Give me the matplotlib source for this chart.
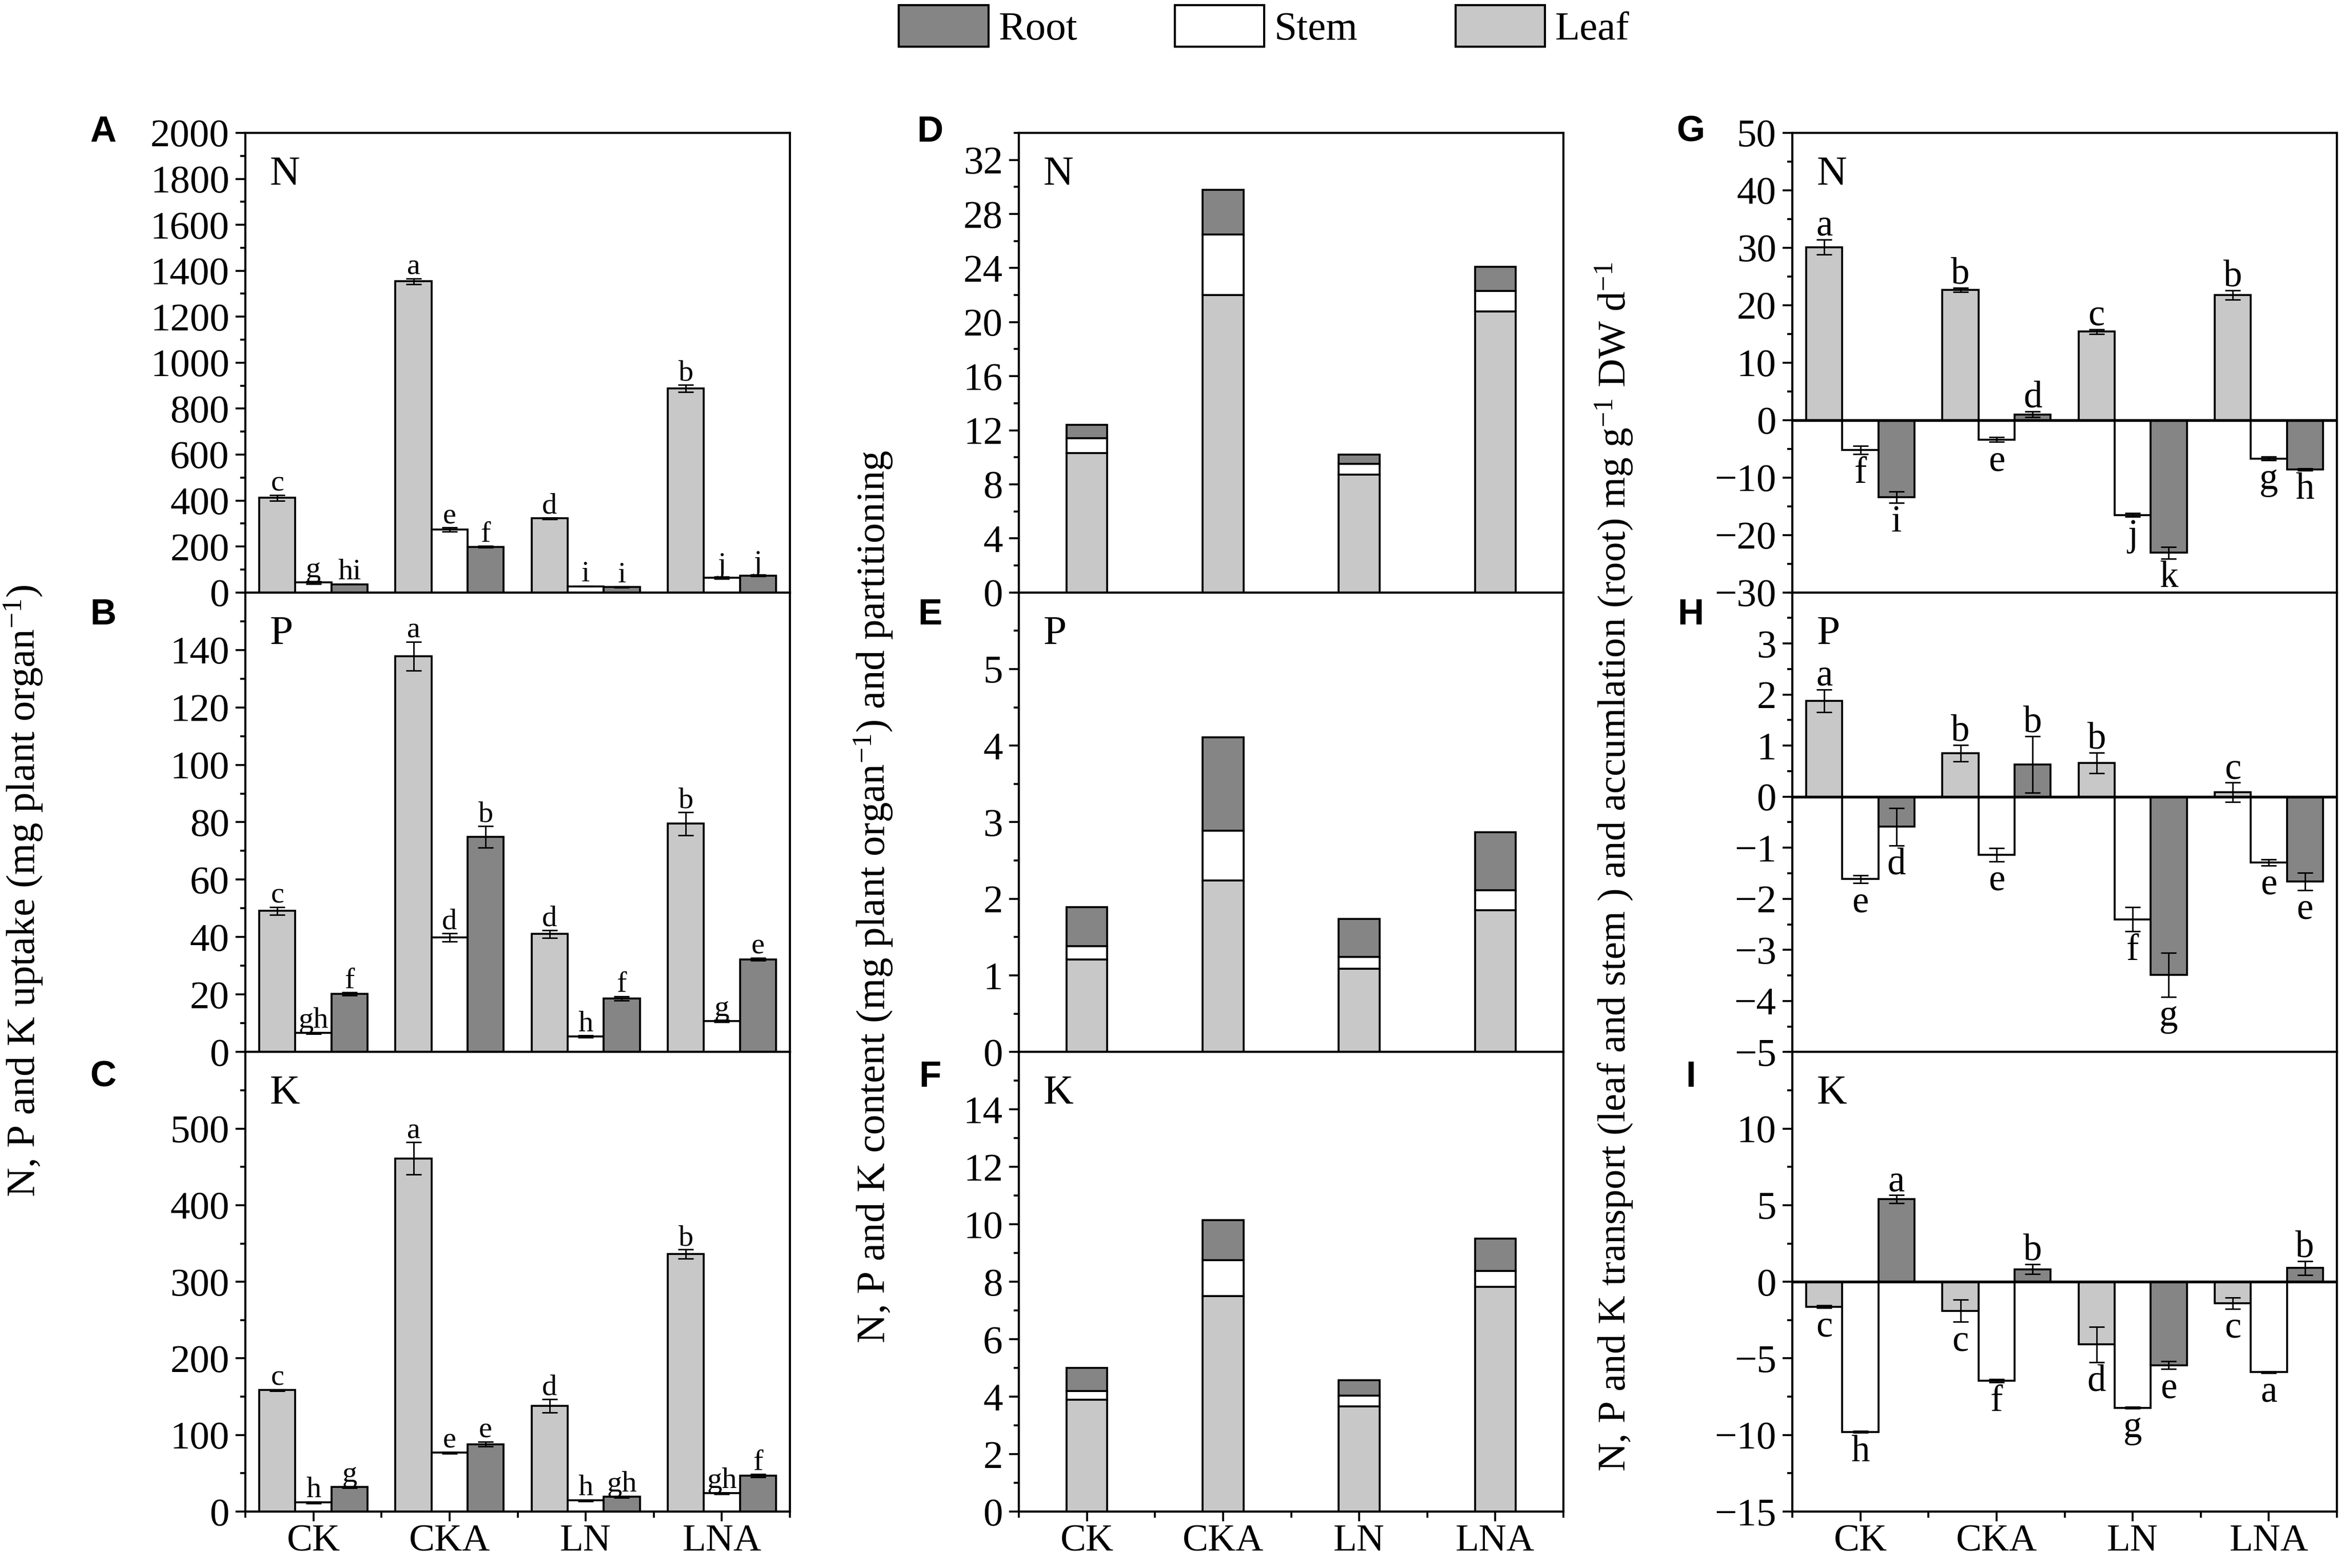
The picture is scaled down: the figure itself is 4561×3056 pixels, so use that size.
import numpy as np
import matplotlib.pyplot as plt
from matplotlib.ticker import MultipleLocator
from matplotlib.patches import Patch

plt.rcParams['font.family'] = ['Liberation Serif', 'DejaVu Serif']
plt.rcParams['mathtext.fontset'] = 'custom'
plt.rcParams['mathtext.rm'] = 'Liberation Serif'
plt.rcParams['mathtext.it'] = 'Liberation Serif:italic'

groups = ["CK", "CKA", "LN", "LNA"]
leaf_c = "#c8c8c8"
root_c = "#858585"

### uptake (A-C), order per list: CK, CKA, LN, LNA
n_leaf = [412, 1354, 322, 888]
n_stem = [43, 274, 27, 64]
n_root = [36, 199, 23, 74]
n_err = [[12, 12, 3, 15], [5, 8, 2, 4], [2, 3, 2, 3]]
n_let = [["c", "a", "d", "b"], ["g", "e", "i", "j"], ["hi", "f", "i", "j"]]

p_leaf = [49.1, 137.8, 41.1, 79.5]
p_stem = [6.6, 39.9, 5.4, 10.8]
p_root = [20.2, 74.9, 18.7, 32.3]
p_err = [[1.4, 5.0, 1.3, 4.0], [0.3, 1.5, 0.3, 0.3], [0.5, 3.8, 0.7, 0.5]]
p_let = [["c", "a", "d", "b"], ["gh", "d", "h", "g"], ["f", "b", "f", "e"]]

k_leaf = [158.5, 461, 138, 336]
k_stem = [12, 77, 14.6, 24]
k_root = [32, 88, 19.3, 47]
k_err = [[1, 21, 9, 6], [1, 1, 1, 1], [1, 3, 1, 2]]
k_let = [["c", "a", "d", "b"], ["h", "e", "h", "gh"], ["g", "e", "gh", "f"]]

### content and partitioning (D-F), stacked: leaf, stem, root
nc_leaf = [10.3, 22.0, 8.7, 20.8]
nc_stem = [1.1, 4.5, 0.8, 1.5]
nc_root = [1.0, 3.3, 0.7, 1.8]

pc_leaf = [1.21, 2.24, 1.09, 1.85]
pc_stem = [0.17, 0.65, 0.15, 0.26]
pc_root = [0.51, 1.22, 0.50, 0.76]

kc_leaf = [3.9, 7.5, 3.67, 7.82]
kc_stem = [0.3, 1.25, 0.36, 0.56]
kc_root = [0.8, 1.4, 0.54, 1.12]

### transport / accumulation (G-I)
nt_leaf = [30.1, 22.7, 15.4, 21.8]
nt_stem = [-5.2, -3.4, -16.5, -6.7]
nt_root = [-13.4, 1.0, -23.1, -8.6]
nt_err = [[1.3, 0.35, 0.4, 0.8], [0.7, 0.4, 0.3, 0.3], [1.0, 0.5, 1.0, 0.15]]
nt_let = [["a", "b", "c", "b"], ["f", "e", "j", "g"], ["i", "d", "k", "h"]]

pt_leaf = [1.88, 0.85, 0.66, 0.085]
pt_stem = [-1.615, -1.14, -2.40, -1.29]
pt_root = [-0.59, 0.63, -3.49, -1.66]
pt_err = [[0.22, 0.16, 0.2, 0.19], [0.08, 0.13, 0.24, 0.06], [0.37, 0.55, 0.43, 0.17]]
pt_let = [["a", "b", "b", "c"], ["e", "e", "f", "e"], ["d", "b", "g", "e"]]

kt_leaf = [-1.62, -1.9, -4.09, -1.4]
kt_stem = [-9.8, -6.47, -8.23, -5.9]
kt_root = [5.39, 0.82, -5.45, 0.9]
kt_err = [[0.08, 0.72, 1.16, 0.38], [0.05, 0.1, 0.05, 0.04], [0.26, 0.32, 0.25, 0.45]]
kt_let = [["c", "c", "d", "c"], ["h", "f", "g", "a"], ["a", "b", "e", "b"]]

x = np.arange(1, 5)

W, H = 4561, 3056
fig = plt.figure(figsize=(W / 300, H / 300), dpi=300)

# layout (pixels)
top_px, bot_px = 259, 2946
row_h = (bot_px - top_px) / 3
lefts = [478 / W, 1985 / W, 3492 / W]
width = 1061 / W
height = row_h / H
bottoms = [1 - (top_px + row_h * (r + 1)) / H for r in range(3)]


def style_axis(ax, ylim, ticks, minor, bottom_row):
    ax.set_xlim(0.5, 4.5)
    ax.set_ylim(*ylim)
    ax.set_yticks(ticks)
    ax.yaxis.set_minor_locator(MultipleLocator(minor))
    for s in ax.spines.values():
        s.set_linewidth(1.0)
    ax.tick_params(axis='y', which='major', direction='out', length=4.5, width=0.9, labelsize=18.5, pad=3)
    ax.tick_params(axis='y', which='minor', direction='out', length=2.5, width=0.9)
    if bottom_row:
        ax.set_xticks(x)
        ax.set_xticklabels(groups, fontsize=18)
        ax.set_xticks(np.arange(0.5, 4.6, 1.0), minor=True)
        ax.tick_params(axis='x', which='major', direction='out', length=4.5, width=0.9, pad=1.5)
        ax.tick_params(axis='x', which='minor', direction='out', length=2.8, width=0.9)
    else:
        ax.tick_params(axis='x', which='both', bottom=False, labelbottom=False)


def grouped(ax, series, errs, letters, fs):
    w = 0.265
    cols = [leaf_c, "white", root_c]
    for k in range(3):
        xs = x + (k - 1) * w
        ax.bar(xs, series[k], w, color=cols[k], edgecolor="black", linewidth=0.9, zorder=2)
        ax.errorbar(xs, series[k], yerr=errs[k], fmt="none", ecolor="black",
                    elinewidth=0.7, capsize=3.5, capthick=0.7, zorder=3)
        for xi, v, e, t in zip(xs, series[k], errs[k], letters[k]):
            if v >= 0:
                ax.annotate(t, (xi, v + e), xytext=(0, 2), textcoords="offset points",
                            ha="center", va="baseline", fontsize=fs)
            else:
                ax.annotate(t, (xi, v - e), xytext=(0, -1), textcoords="offset points",
                            ha="center", va="top", fontsize=fs)


def stacked(ax, leaf, stem, root):
    w = 0.30
    ax.bar(x, leaf, w, color=leaf_c, edgecolor="black", linewidth=0.9, zorder=2)
    ax.bar(x, stem, w, bottom=leaf, color="white", edgecolor="black", linewidth=0.9, zorder=2)
    ax.bar(x, root, w, bottom=np.add(leaf, stem), color=root_c, edgecolor="black", linewidth=0.9, zorder=2)


def elem(ax, t):
    ax.text(0.045, 0.95, t, transform=ax.transAxes, ha="left", va="top", fontsize=19.5)


axes = {}
for c in range(3):
    for r in range(3):
        axes[(c, r)] = fig.add_axes([lefts[c], bottoms[r], width, height])

# column 1 - uptake
ax = axes[(0, 0)]
grouped(ax, [n_leaf, n_stem, n_root], n_err, n_let, 14)
style_axis(ax, (0, 2000), np.arange(0, 2001, 200), 100, False)
elem(ax, "N")
ax = axes[(0, 1)]
grouped(ax, [p_leaf, p_stem, p_root], p_err, p_let, 14)
style_axis(ax, (0, 160), np.arange(0, 141, 20), 10, False)
elem(ax, "P")
ax = axes[(0, 2)]
grouped(ax, [k_leaf, k_stem, k_root], k_err, k_let, 14)
style_axis(ax, (0, 600), np.arange(0, 501, 100), 50, True)
elem(ax, "K")

# column 2 - content
ax = axes[(1, 0)]
stacked(ax, nc_leaf, nc_stem, nc_root)
style_axis(ax, (0, 34), np.arange(0, 33, 4), 2, False)
elem(ax, "N")
ax = axes[(1, 1)]
stacked(ax, pc_leaf, pc_stem, pc_root)
style_axis(ax, (0, 6), np.arange(0, 6, 1), 0.5, False)
elem(ax, "P")
ax = axes[(1, 2)]
stacked(ax, kc_leaf, kc_stem, kc_root)
style_axis(ax, (0, 16), np.arange(0, 15, 2), 1, True)
elem(ax, "K")

# column 3 - transport
ax = axes[(2, 0)]
grouped(ax, [nt_leaf, nt_stem, nt_root], nt_err, nt_let, 17.5)
style_axis(ax, (-30, 50), np.arange(-30, 51, 10), 5, False)
ax.axhline(0, color="black", lw=1.3, zorder=4)
elem(ax, "N")
ax = axes[(2, 1)]
grouped(ax, [pt_leaf, pt_stem, pt_root], pt_err, pt_let, 17.5)
style_axis(ax, (-5, 4), np.arange(-5, 4, 1), 0.5, False)
ax.axhline(0, color="black", lw=1.3, zorder=4)
elem(ax, "P")
ax = axes[(2, 2)]
grouped(ax, [kt_leaf, kt_stem, kt_root], kt_err, kt_let, 17.5)
style_axis(ax, (-15, 15), np.arange(-15, 11, 5), 2.5, True)
ax.axhline(0, color="black", lw=1.3, zorder=4)
elem(ax, "K")

# panel letters
letter_x = [201 / W, 1812 / W, 3294 / W]
letter_y = [1 - 258 / H, 1 - 1199 / H, 1 - 2100 / H]
for c in range(3):
    for r in range(3):
        fig.text(letter_x[c], letter_y[r], "ABCDEFGHI"[c * 3 + r], ha="center", va="center",
                 fontsize=17, fontweight="bold", family="Liberation Sans")

# y labels
fig.text(46 / W, 0.432, "N, P and K uptake (mg plant organ$^{-1}$)",
         rotation=90, ha="center", va="center", fontsize=19)
fig.text(1702 / W, 0.428, "N, P and K content (mg plant organ$^{-1}$) and partitioning",
         rotation=90, ha="center", va="center", fontsize=19)
fig.text(3145 / W, 0.447,
         "N, P and K transport (leaf and stem ) and accumlation (root) mg g$^{-1}$ DW d$^{-1}$",
         rotation=90, ha="center", va="center", fontsize=18.5)

# legend
handles = [Patch(facecolor=root_c, edgecolor="black", linewidth=1.0),
           Patch(facecolor="white", edgecolor="black", linewidth=1.0),
           Patch(facecolor=leaf_c, edgecolor="black", linewidth=1.0)]
fig.legend(handles, ["Root", "Stem", "Leaf"], loc="center", bbox_to_anchor=(0.54, 0.983),
           ncol=3, frameon=False, fontsize=19, handlelength=2.2, handleheight=1.19,
           handletextpad=0.25, columnspacing=2.4)

fig.savefig("out.png", dpi=300)
